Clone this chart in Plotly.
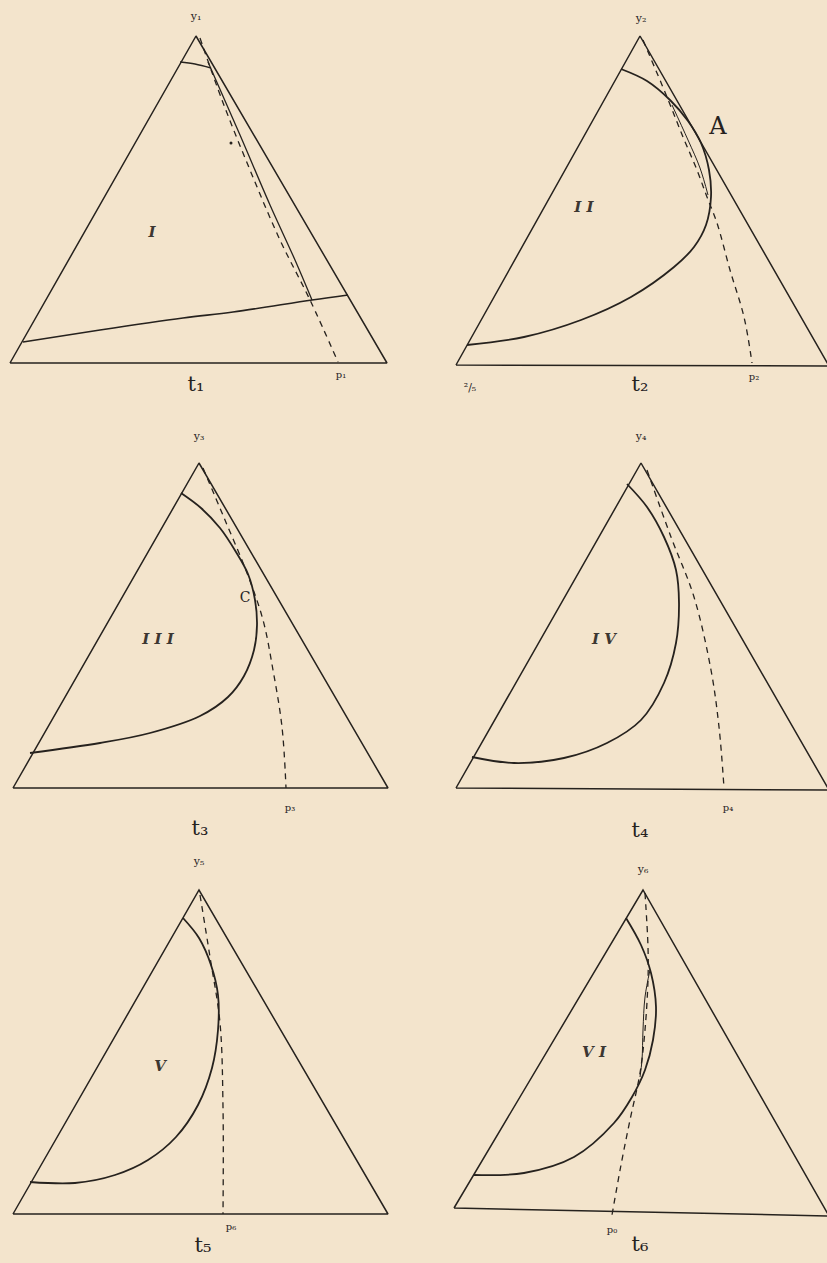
import plotly.graph_objects as go

# figure I
tri1_x = [10, 196, 387, 10]
tri1_y = [363, 36, 363, 363]
cap1_x = [180, 195, 211]
cap1_y = [62, 64, 68]
solid1_x = [208, 240, 270, 295, 312]
solid1_y = [62, 135, 205, 260, 300]
dash1_x = [200, 222, 250, 280, 310, 338]
dash1_y = [38, 100, 170, 240, 300, 362]
base1_x = [23, 100, 183, 233, 312, 348]
base1_y = [342, 330, 318, 312, 300, 295]

# figure II
tri2_x = [456, 640, 829, 456]
tri2_y = [365, 36, 366, 365]
curve2_x = [621, 647, 670, 688, 701, 709, 711, 706, 694, 674, 631, 581, 524, 467]
curve2_y = [69, 81, 100, 121, 143, 170, 197, 225, 247, 267, 297, 320, 337, 345]
inner2_x = [672, 688, 700, 708]
inner2_y = [105, 140, 168, 195]
dash2_x = [643, 667, 683, 697, 707, 717, 730, 744, 752]
dash2_y = [40, 97, 137, 170, 197, 223, 270, 317, 363]

# figure III
tri3_x = [13, 199, 388, 13]
tri3_y = [788, 463, 788, 788]
curve3_x = [181, 201, 220, 236, 248, 255, 257, 254, 244, 228, 200, 150, 100, 30]
curve3_y = [493, 508, 528, 552, 574, 600, 625, 650, 676, 697, 716, 733, 743, 753]
dash3_x = [203, 225, 247, 263, 273, 282, 286]
dash3_y = [468, 520, 573, 620, 670, 727, 788]

# figure IV
tri4_x = [456, 641, 829, 456]
tri4_y = [788, 463, 790, 788]
curve4_x = [627, 647, 664, 676, 679, 676, 664, 641, 607, 564, 514, 472]
curve4_y = [484, 507, 537, 570, 603, 643, 683, 720, 743, 758, 763, 757]
dash4_x = [647, 671, 694, 711, 719, 724]
dash4_y = [470, 537, 597, 670, 727, 788]

# figure V
tri5_x = [13, 199, 388, 13]
tri5_y = [1214, 890, 1214, 1214]
curve5_x = [183, 199, 211, 218, 218, 212, 198, 176, 148, 115, 75, 30]
curve5_y = [918, 938, 965, 995, 1030, 1068, 1105, 1137, 1160, 1175, 1183, 1182]
dash5_x = [200, 210, 220, 223, 223]
dash5_y = [895, 957, 1023, 1107, 1214]

# figure VI
tri6_x = [454, 643, 829, 454]
tri6_y = [1208, 890, 1216, 1208]
curve6_x = [626, 641, 651, 656, 653, 645, 632, 614, 574, 524, 474]
curve6_y = [918, 945, 973, 1007, 1040, 1070, 1097, 1123, 1157, 1173, 1175]
inner6_x = [650, 645, 643, 642, 640]
inner6_y = [970, 997, 1030, 1060, 1077]
dash6_x = [645, 648, 648, 645, 640, 630, 621, 612]
dash6_y = [893, 947, 980, 1030, 1073, 1120, 1165, 1215]

# labels
roman_text = ["I", "II", "III", "IV", "V", "VI"]
roman_x = [152, 584, 158, 604, 160, 594]
roman_y = [233, 208, 640, 640, 1067, 1053]
apex_text = ["y₁", "y₂", "y₃", "y₄", "y₅", "y₆"]
apex_x = [196, 641, 199, 641, 199, 643]
apex_y = [17, 19, 437, 437, 862, 870]
t_text = ["t₁", "t₂", "t₃", "t₄", "t₅", "t₆"]
t_x = [196, 640, 200, 640, 203, 640]
t_y = [386, 386, 830, 832, 1247, 1246]
p_text = ["p₁", "p₂", "p₃", "p₄", "p₆", "p₀"]
p_x = [341, 754, 290, 728, 231, 612]
p_y = [375, 377, 808, 808, 1227, 1230]
extra_text = ["A", "C", "²/₅"]
extra_x = [718, 245, 470]
extra_y = [128, 598, 388]

ink = "rgb(38,34,30)"
paper = "rgb(243,228,204)"

fig = go.Figure()


def add_line(x, y, width=1.4, dash="solid", spline=False):
    fig.add_trace(go.Scatter(
        x=x, y=y, mode="lines",
        line=dict(color=ink, width=width, dash=dash,
                  shape="spline" if spline else "linear", smoothing=1.0),
        hoverinfo="skip", showlegend=False,
    ))


for tx, ty in [(tri1_x, tri1_y), (tri2_x, tri2_y), (tri3_x, tri3_y),
               (tri4_x, tri4_y), (tri5_x, tri5_y), (tri6_x, tri6_y)]:
    add_line(tx, ty, width=1.5)

add_line(cap1_x, cap1_y, 1.3, spline=True)
add_line(solid1_x, solid1_y, 1.3, spline=True)
add_line(base1_x, base1_y, 1.6, spline=True)
add_line(inner2_x, inner2_y, 1.0, spline=True)
add_line(inner6_x, inner6_y, 1.0, spline=True)

for cx, cy in [(curve2_x, curve2_y), (curve3_x, curve3_y), (curve4_x, curve4_y),
               (curve5_x, curve5_y), (curve6_x, curve6_y)]:
    add_line(cx, cy, 1.8, spline=True)

for dx, dy in [(dash1_x, dash1_y), (dash2_x, dash2_y), (dash3_x, dash3_y),
               (dash4_x, dash4_y), (dash5_x, dash5_y), (dash6_x, dash6_y)]:
    add_line(dx, dy, 1.3, dash="6px,5px", spline=True)

# small stray dot in figure I
fig.add_trace(go.Scatter(x=[231], y=[143], mode="markers",
                         marker=dict(color=ink, size=3), hoverinfo="skip", showlegend=False))

serif = "DejaVu Serif"
fig.add_trace(go.Scatter(
    x=roman_x, y=roman_y, mode="text",
    text=["<b><i>" + " ".join(s) + "</i></b>" for s in roman_text],
    textfont=dict(family=serif, size=15, color="rgb(60,55,50)"), hoverinfo="skip", showlegend=False))
fig.add_trace(go.Scatter(
    x=apex_x, y=apex_y, mode="text", text=apex_text,
    textfont=dict(family=serif, size=11, color=ink), hoverinfo="skip", showlegend=False))
fig.add_trace(go.Scatter(
    x=t_x, y=t_y, mode="text", text=t_text,
    textfont=dict(family=serif, size=21, color=ink), hoverinfo="skip", showlegend=False))
fig.add_trace(go.Scatter(
    x=p_x, y=p_y, mode="text", text=p_text,
    textfont=dict(family=serif, size=10, color=ink), hoverinfo="skip", showlegend=False))
fig.add_trace(go.Scatter(
    x=extra_x, y=extra_y, mode="text", text=extra_text,
    textfont=dict(family=serif, size=[24, 14, 11], color=ink), hoverinfo="skip", showlegend=False))

fig.update_layout(
    width=827, height=1263,
    margin=dict(l=0, r=0, t=0, b=0),
    paper_bgcolor=paper, plot_bgcolor=paper,
    xaxis=dict(range=[0, 827], visible=False, fixedrange=True),
    yaxis=dict(range=[1263, 0], visible=False, fixedrange=True),
)

fig.write_html("out.html", config={"displayModeBar": False},
               post_script="document.body.style.margin='0';")
